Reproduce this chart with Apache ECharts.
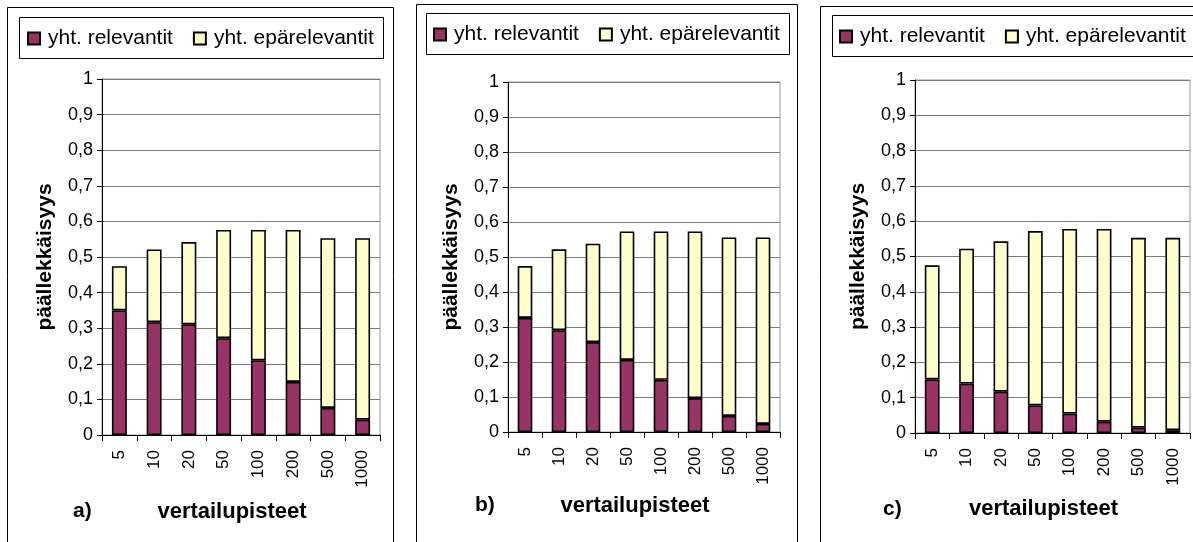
<!DOCTYPE html>
<html>
<head>
<meta charset="utf-8">
<script src="https://cdn.jsdelivr.net/npm/echarts@6/dist/echarts.min.js"></script>
<style>
  html, body { margin: 0; padding: 0; background: #ffffff; }
  #chart { width: 1193px; height: 542px; }
</style>
</head>
<body>
<div id="chart"></div>
<script>
// Vertailupisteiden määrä (x-akselin luokat)
const categories = ['5', '10', '20', '50', '100', '200', '500', '1000'];

// a) relevantit ja epärelevantit osuudet
const relevantA   = [0.350, 0.317, 0.311, 0.272, 0.210, 0.149, 0.076, 0.043];
const irrelevantA = [0.124, 0.204, 0.231, 0.304, 0.366, 0.427, 0.477, 0.510];

// b)
const relevantB   = [0.326, 0.291, 0.257, 0.206, 0.149, 0.097, 0.046, 0.023];
const irrelevantB = [0.148, 0.231, 0.281, 0.367, 0.424, 0.476, 0.510, 0.533];

// c)
const relevantC   = [0.152, 0.140, 0.117, 0.078, 0.055, 0.032, 0.015, 0.008];
const irrelevantC = [0.323, 0.382, 0.426, 0.494, 0.523, 0.546, 0.538, 0.545];

const seriesNames = ['yht. relevantit', 'yht. epärelevantit'];
const panelLabels = ['a)', 'b)', 'c)'];
const yAxisTitle = 'päällekkäisyys';
const xAxisTitle = 'vertailupisteet';

const FONT = '"Liberation Sans", Arial, sans-serif';
const RELEVANT_COLOR = '#993366';
const IRRELEVANT_COLOR = '#FFFFCC';

const panels = [
  { rel: relevantA, irr: irrelevantA, grid: { left: 102, top: 79, width: 278, height: 356 }, nameGap: 66, yGap: 46,
    legend: { left: 27, top: 28 }, legendBox: [19, 17, 364, 41], frame: [7, 7, 386, 600], label: [73, 512] },
  { rel: relevantB, irr: irrelevantB, grid: { left: 508, top: 82, width: 272, height: 350 }, nameGap: 63, yGap: 46,
    legend: { left: 433, top: 24 }, legendBox: [426, 13, 363, 41], frame: [416, 4, 381, 600], label: [475, 506] },
  { rel: relevantC, irr: irrelevantC, grid: { left: 915, top: 80, width: 275, height: 353 }, nameGap: 65, yGap: 46,
    legend: { left: 839, top: 26 }, legendBox: [832, 15, 400, 41], frame: [820, 6, 400, 600], label: [883, 510] }
];

const fmt = v => String(+v.toFixed(1)).replace('.', ',');

const option = {
  backgroundColor: '#ffffff',
  animation: false,
  textStyle: { fontFamily: FONT },
  grid: panels.map(p => Object.assign({
    show: true, borderColor: '#9a9a9a', borderWidth: 1, backgroundColor: 'transparent'
  }, p.grid)),
  xAxis: panels.map((p, i) => ({
    type: 'category',
    gridIndex: i,
    data: categories,
    axisLine: { lineStyle: { color: '#000', width: 1 } },
    axisTick: { show: true, length: 6, lineStyle: { color: '#000', width: 1 } },
    axisLabel: { rotate: 90, fontSize: 17, color: '#000', margin: 15, fontFamily: FONT },
    name: xAxisTitle,
    nameLocation: 'middle',
    nameGap: p.nameGap,
    nameTextStyle: { fontSize: 22, fontWeight: 'bold', color: '#000', fontFamily: FONT, padding: [0, 18, 0, 0] }
  })),
  yAxis: panels.map((p, i) => ({
    type: 'value',
    gridIndex: i,
    min: 0, max: 1, interval: 0.1,
    axisLine: { show: true, lineStyle: { color: '#000', width: 1 } },
    axisTick: { show: true, length: 5, lineStyle: { color: '#000', width: 1 } },
    splitLine: { show: true, lineStyle: { color: '#7a7a7a', width: 1.2 } },
    axisLabel: { formatter: fmt, fontSize: 18, color: '#000', margin: 9, fontFamily: FONT },
    name: yAxisTitle,
    nameLocation: 'middle',
    nameRotate: 90,
    nameGap: p.yGap,
    nameTextStyle: { fontSize: 21, fontWeight: 'bold', color: '#000', fontFamily: FONT }
  })),
  legend: panels.map(p => ({
    left: p.legend.left, top: p.legend.top,
    padding: 0,
    icon: 'rect',
    itemWidth: 12, itemHeight: 12, itemGap: 20,
    selectedMode: false,
    data: seriesNames,
    textStyle: { fontSize: 21, color: '#000', fontFamily: FONT, padding: [0, 0, 0, 3] }
  })),
  series: [],
  graphic: []
};

panels.forEach((p, i) => {
  option.series.push({
    name: seriesNames[0], type: 'bar', stack: 'panel' + i,
    xAxisIndex: i, yAxisIndex: i, barWidth: '43%',
    itemStyle: { color: RELEVANT_COLOR, borderColor: '#000', borderWidth: 1.6 },
    data: p.rel
  });
  option.series.push({
    name: seriesNames[1], type: 'bar', stack: 'panel' + i,
    xAxisIndex: i, yAxisIndex: i, barWidth: '43%',
    itemStyle: { color: IRRELEVANT_COLOR, borderColor: '#000', borderWidth: 1.6 },
    data: p.irr
  });
  // Paneelin kehys ja selitelaatikko
  option.graphic.push({
    type: 'rect', silent: true, z: -10,
    shape: { x: p.frame[0] + 0.5, y: p.frame[1] + 0.5, width: p.frame[2], height: p.frame[3] },
    style: { fill: 'none', stroke: '#000', lineWidth: 1 }
  });
  option.graphic.push({
    type: 'rect', silent: true, z: -10,
    shape: { x: p.legendBox[0] + 0.5, y: p.legendBox[1] + 0.5, width: p.legendBox[2], height: p.legendBox[3] },
    style: { fill: 'none', stroke: '#000', lineWidth: 1 }
  });
  // Paneelin tunniste
  option.graphic.push({
    type: 'text', silent: true,
    left: p.label[0], top: p.label[1] - 11,
    style: { text: panelLabels[i], fill: '#000', font: 'bold 21px ' + FONT }
  });
});

const chart = echarts.init(document.getElementById('chart'), null, { renderer: 'canvas' });
chart.setOption(option);
</script>
</body>
</html>
